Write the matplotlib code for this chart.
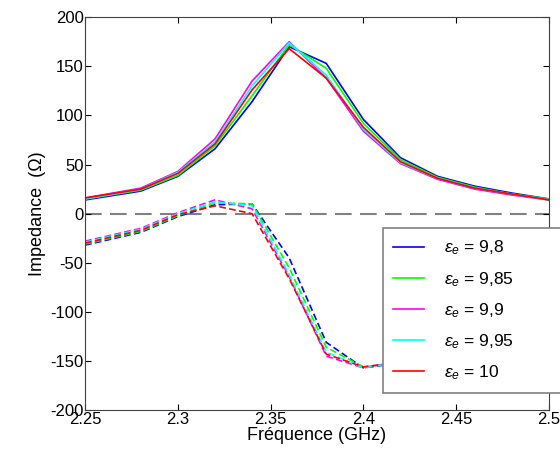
import numpy as np
import matplotlib
matplotlib.use('Agg')
import matplotlib.pyplot as plt

plt.rcParams['font.family'] = ['Liberation Sans', 'DejaVu Sans']
plt.rcParams['mathtext.fontset'] = 'custom'
plt.rcParams['mathtext.rm'] = 'Liberation Sans'
plt.rcParams['mathtext.it'] = 'Liberation Sans:italic'
plt.rcParams['axes.unicode_minus'] = False

# frequences (GHz)
freq = [2.25, 2.28, 2.30, 2.32, 2.34, 2.36, 2.38, 2.40, 2.42, 2.44, 2.46, 2.48, 2.50]

# partie reelle
re_98 = [14, 23, 38, 66, 114, 170, 153, 96, 57, 38, 28, 21, 15]
re_985 = [15, 24, 39, 69, 120, 172, 148, 92, 55, 37, 27, 20, 15]
re_99 = [16, 26, 43, 76, 135, 175, 138, 84, 51, 35, 25, 19, 14]
re_995 = [15, 25, 42, 73, 130, 174, 141, 86, 52, 36, 26, 20, 14]
re_10 = [16, 25, 41, 71, 126, 168, 138, 88, 53, 36, 26, 20, 14]

# partie imaginaire
im_98 = [-32, -19, -3, 9, 10, -45, -131, -157, -152, -140, -126, -112, -98]
im_985 = [-31, -18, -2, 11, 10, -55, -136, -156, -152, -140, -126, -112, -98]
im_99 = [-28, -15, 1, 14, 5, -64, -145, -157, -150, -138, -124, -110, -96]
im_995 = [-29, -16, 0, 12, 8, -62, -141, -157, -151, -139, -125, -111, -97]
im_10 = [-30, -17, -1, 8, 0, -66, -143, -156, -151, -139, -125, -111, -97]

labels = ['9,8', '9,85', '9,9', '9,95', '10']
colors = ['#0000ff', '#00ff00', '#ff00ff', '#00ffff', '#ff0000']
reals = [re_98, re_985, re_99, re_995, re_10]
imags = [im_98, im_985, im_99, im_995, im_10]

fig = plt.figure(figsize=(5.6, 4.65), dpi=100)
ax = fig.add_axes([0.152, 0.118, 0.828, 0.845])

ax.axhline(0, color='#808080', lw=1.5, ls=(0, (8, 4)), zorder=1)

for lab, c, r, im in zip(labels, colors, reals, imags):
    ax.plot(freq, r, color=c, lw=1.2, label=r'$\varepsilon_e$ = ' + lab)
    ax.plot(freq, im, color=c, lw=1.2, ls=(0, (4, 2)))

ax.set_xlim(2.25, 2.5)
ax.set_ylim(-200, 200)
ax.set_xticks([2.25, 2.3, 2.35, 2.4, 2.45, 2.5])
ax.set_xticklabels(['2.25', '2.3', '2.35', '2.4', '2.45', '2.5'])
ax.set_yticks(np.arange(-200, 201, 50))
ax.tick_params(direction='in', top=True, right=True, labelsize=12, length=4, pad=1)
for s in ax.spines.values():
    s.set_color('#404040')

ax.set_xlabel('Fréquence (GHz)', fontsize=13, labelpad=0)
ax.set_ylabel('Impedance  (Ω)', fontsize=13, labelpad=3)

# la legende deborde a droite jusqu'au bord de la figure
leg = ax.legend(loc='upper left', bbox_to_anchor=(0.642, 0.0, 0.40, 0.463), mode='expand',
                fontsize=12.5, frameon=True, fancybox=False, handlelength=1.8,
                handletextpad=1.1, labelspacing=0.72, borderpad=0.6, borderaxespad=0)
leg.get_frame().set_edgecolor('#808080')
leg.get_frame().set_linewidth(1.2)
leg.get_frame().set_alpha(1)
leg.set_clip_on(False)

fig.savefig('out.png', dpi=100)
